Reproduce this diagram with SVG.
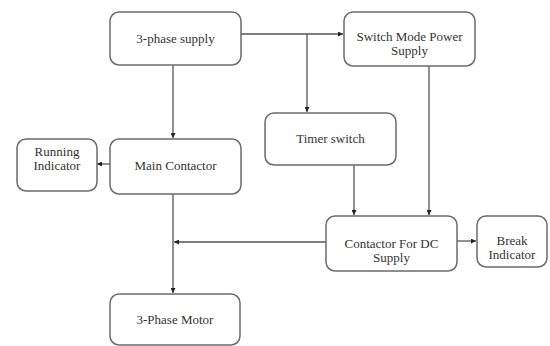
<svg xmlns="http://www.w3.org/2000/svg" width="550" height="346" viewBox="0 0 550 346">
<style>
.box{fill:#fff;stroke:#6b6b6b;stroke-width:1.5}
.t{font-family:'Liberation Serif','DejaVu Serif','Times New Roman',serif;font-size:13px;fill:#333;text-anchor:middle}
.c{fill:none;stroke:#555;stroke-width:1.3}
</style>
<defs>
<marker id="ah" viewBox="0 0 10 10" refX="10" refY="5" markerWidth="5" markerHeight="5" orient="auto" markerUnits="userSpaceOnUse">
<path d="M0,0 L10,5 L0,10 z" fill="#222"/>
</marker>
</defs>
<rect width="550" height="346" fill="#fff"/>
<g id="connectors">
<path class="c" d="M173,65 V138" marker-end="url(#ah)"/>
<path class="c" d="M241,34 H343" marker-end="url(#ah)"/>
<path class="c" d="M307,34 V112" marker-end="url(#ah)"/>
<path class="c" d="M110,164 H97" marker-end="url(#ah)"/>
<path class="c" d="M354,165 V215" marker-end="url(#ah)"/>
<path class="c" d="M429,66 V215" marker-end="url(#ah)"/>
<path class="c" d="M326,242 H174" marker-end="url(#ah)"/>
<path class="c" d="M457,241 H476" marker-end="url(#ah)"/>
<path class="c" d="M173,194 V293" marker-end="url(#ah)"/>
</g>
<g id="supply"><rect class="box" x="110" y="12" width="131" height="53" rx="9"/><text class="t" x="175.5" y="43">3-phase supply</text></g>
<g id="smps"><rect class="box" x="344" y="12" width="131" height="54" rx="9"/><text class="t" x="409.5" y="41">Switch Mode Power</text><text class="t" x="409.5" y="55">Supply</text></g>
<g id="timer"><rect class="box" x="265" y="113" width="131" height="52" rx="9"/><text class="t" x="330.5" y="143">Timer switch</text></g>
<g id="main"><rect class="box" x="110" y="139" width="131" height="55" rx="9"/><text class="t" x="175.5" y="170">Main Contactor</text></g>
<g id="running"><rect class="box" x="17" y="139" width="80" height="52" rx="9"/><text class="t" x="57" y="156">Running</text><text class="t" x="57" y="170">Indicator</text></g>
<g id="dc"><rect class="box" x="326" y="216" width="131" height="55" rx="9"/><text class="t" x="391.5" y="248">Contactor For DC</text><text class="t" x="391.5" y="262">Supply</text></g>
<g id="break"><rect class="box" x="477" y="216" width="70" height="51" rx="9"/><text class="t" x="512" y="245">Break</text><text class="t" x="512" y="259">Indicator</text></g>
<g id="motor"><rect class="box" x="110" y="294" width="130" height="51" rx="9"/><text class="t" x="175" y="324">3-Phase Motor</text></g>
</svg>
